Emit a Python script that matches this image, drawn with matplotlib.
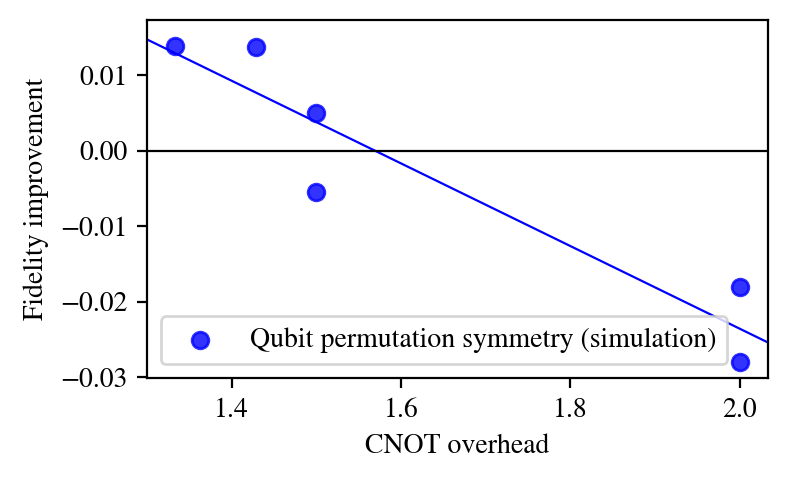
import numpy as np
import matplotlib
matplotlib.use('Agg')
import matplotlib.pyplot as plt

plt.rcParams['font.family'] = ['STIXGeneral', 'DejaVu Serif']
plt.rcParams['font.size'] = 10
plt.rcParams['axes.unicode_minus'] = True

# CNOT overhead vs fidelity improvement
overhead = [4/3, 10/7, 1.5, 1.5, 2.0, 2.0]
improvement = [0.0138, 0.0137, 0.0050, -0.0055, -0.0180, -0.0280]

x = np.array(overhead)
y = np.array(improvement)
slope, icpt = np.polyfit(x, y, 1)

fig = plt.figure(figsize=(3.94, 2.395), dpi=200)
ax = fig.add_axes([0.1865, 0.2109, 0.7881, 0.7473])

xlo, xhi = 1.2999, 2.0333
xx = np.array([xlo, xhi])
ax.plot(xx, slope*xx + icpt, color='blue', lw=0.8, zorder=1)
ax.axhline(0, color='k', lw=0.8, zorder=1)
ax.scatter(x, y, color='blue', alpha=0.8, zorder=2,
           label='Qubit permutation symmetry (simulation)')

ax.set_xlim(xlo, xhi)
ax.set_ylim(-0.0301, 0.0173)
ax.set_xticks([1.4, 1.6, 1.8, 2.0])
ax.set_yticks([-0.03, -0.02, -0.01, 0.0, 0.01])
ax.set_xlabel('CNOT overhead')
ax.set_ylabel('Fidelity improvement')
ax.legend(loc='lower left')

fig.savefig('out.png', dpi=200)
